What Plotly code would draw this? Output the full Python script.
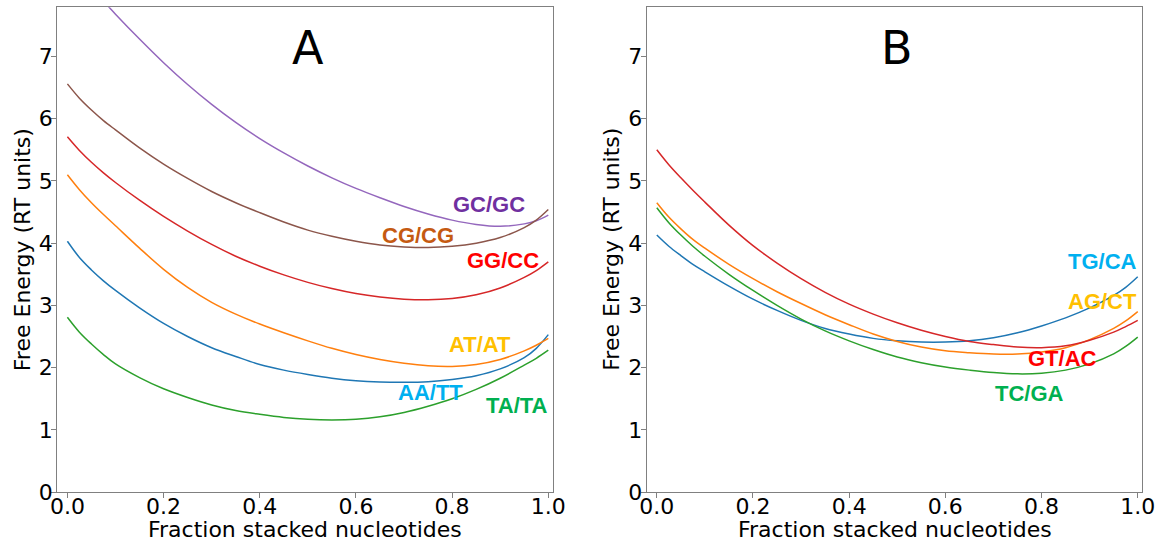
import plotly.graph_objects as go

# ---------------- data ----------------
frac = [0.0, 0.025, 0.05, 0.075, 0.1, 0.15, 0.2, 0.25, 0.3, 0.35, 0.4, 0.45, 0.5,
        0.55, 0.6, 0.65, 0.7, 0.75, 0.8, 0.85, 0.9, 0.95, 0.975, 1.0]

# Panel A
aa_tt = [4.03, 3.77, 3.57, 3.395, 3.24, 2.96, 2.71, 2.50, 2.32, 2.18, 2.05, 1.96, 1.89,
         1.83, 1.79, 1.77, 1.765, 1.775, 1.81, 1.87, 1.98, 2.16, 2.31, 2.53]
at_at = [5.10, 4.86, 4.65, 4.46, 4.28, 3.92, 3.58, 3.29, 3.05, 2.86, 2.70, 2.56, 2.43,
         2.31, 2.21, 2.13, 2.07, 2.03, 2.02, 2.05, 2.13, 2.27, 2.36, 2.47]
ta_ta = [2.81, 2.57, 2.38, 2.21, 2.06, 1.84, 1.66, 1.52, 1.40, 1.31, 1.25, 1.20, 1.17,
         1.16, 1.17, 1.21, 1.28, 1.38, 1.50, 1.65, 1.83, 2.04, 2.15, 2.28]
gg_cc = [5.71, 5.49, 5.30, 5.13, 4.975, 4.69, 4.43, 4.195, 3.98, 3.79, 3.63, 3.49, 3.37,
         3.27, 3.19, 3.135, 3.10, 3.09, 3.11, 3.17, 3.28, 3.45, 3.56, 3.70]
gc_gc = [8.55, 8.32, 8.10, 7.89, 7.68, 7.28, 6.90, 6.55, 6.23, 5.94, 5.68, 5.45, 5.24,
         5.05, 4.88, 4.73, 4.59, 4.47, 4.37, 4.30, 4.27, 4.31, 4.36, 4.45]
cg_cg = [6.56, 6.33, 6.14, 5.97, 5.82, 5.53, 5.27, 5.04, 4.83, 4.65, 4.49, 4.34, 4.21,
         4.11, 4.03, 3.97, 3.94, 3.93, 3.95, 4.00, 4.09, 4.25, 4.37, 4.54]

# Panel B
tg_ca = [4.13, 3.95, 3.80, 3.66, 3.54, 3.31, 3.10, 2.92, 2.76, 2.63, 2.54, 2.47, 2.43,
         2.41, 2.41, 2.43, 2.48, 2.56, 2.67, 2.80, 2.96, 3.16, 3.29, 3.46]
ag_ct = [4.65, 4.42, 4.23, 4.06, 3.92, 3.66, 3.43, 3.22, 3.03, 2.85, 2.69, 2.54, 2.42,
         2.33, 2.27, 2.24, 2.22, 2.22, 2.25, 2.32, 2.45, 2.63, 2.75, 2.90]
tc_ga = [4.57, 4.33, 4.13, 3.95, 3.79, 3.50, 3.24, 3.00, 2.78, 2.59, 2.43, 2.29, 2.17,
         2.08, 2.01, 1.96, 1.92, 1.90, 1.91, 1.96, 2.06, 2.22, 2.34, 2.49]
gt_ac = [5.50, 5.26, 5.05, 4.85, 4.66, 4.29, 3.96, 3.68, 3.43, 3.21, 3.02, 2.86, 2.72,
         2.60, 2.50, 2.42, 2.37, 2.33, 2.32, 2.35, 2.44, 2.57, 2.66, 2.76]

panel_a_series = [("AA/TT", aa_tt), ("AT/AT", at_at), ("TA/TA", ta_ta),
                  ("GG/CC", gg_cc), ("GC/GC", gc_gc), ("CG/CG", cg_cg)]
panel_b_series = [("TG/CA", tg_ca), ("AG/CT", ag_ct), ("TC/GA", tc_ga),
                  ("GT/AC", gt_ac)]

line_colors = ["#1f77b4", "#ff7f0e", "#2ca02c", "#d62728", "#9467bd", "#8c564b"]

# label text, position (x, y) and colour
labels_a = [("GC/GC", 0.876, 4.62, "#7030A0"), ("CG/CG", 0.730, 4.13, "#C55A11"),
            ("GG/CC", 0.906, 3.72, "#FF0000"), ("AT/AT", 0.858, 2.37, "#FFC000"),
            ("AA/TT", 0.754, 1.60, "#00B0F0"), ("TA/TA", 0.934, 1.39, "#00B050")]
labels_b = [("TG/CA", 0.927, 3.70, "#00B0F0"), ("AG/CT", 0.927, 3.06, "#FFC000"),
            ("GT/AC", 0.844, 2.15, "#FF0000"), ("TC/GA", 0.775, 1.59, "#00B050")]

x_ticks = [0.0, 0.2, 0.4, 0.6, 0.8, 1.0]
y_ticks = [0, 1, 2, 3, 4, 5, 6, 7]
x_title = "Fraction stacked nucleotides"
y_title = "Free Energy (RT units)"

# ---------------- figure ----------------
W, H = 1159, 544
fig = go.Figure()

for i, (name, ys) in enumerate(panel_a_series):
    fig.add_trace(go.Scatter(x=frac, y=ys, mode="lines", name=name,
                             line=dict(color=line_colors[i], width=1.5, shape="spline"),
                             xaxis="x", yaxis="y", showlegend=False))
for i, (name, ys) in enumerate(panel_b_series):
    fig.add_trace(go.Scatter(x=frac, y=ys, mode="lines", name=name,
                             line=dict(color=line_colors[i], width=1.5, shape="spline"),
                             xaxis="x2", yaxis="y2", showlegend=False))

ydom = [(H - 492.1) / H, (H - 7.3) / H]
xdomA = [57.3 / W, 553.3 / W]
xdomB = [646.7 / W, 1142.3 / W]

axis_common = dict(showline=True, linecolor="#808080", linewidth=1.3, mirror=True,
                   ticks="outside", ticklen=5, tickcolor="#808080", tickwidth=1.3,
                   showgrid=False, zeroline=False,
                   tickfont=dict(family="DejaVu Sans", size=22, color="black"),
                   automargin=False)
xaxis_common = dict(axis_common, ticklabelstandoff=-11, tickvals=x_ticks, tickformat=".1f")
yaxis_common = dict(axis_common, ticklabelstandoff=-6, tickvals=y_ticks, range=[0, 7.79])

fig.update_layout(
    width=W, height=H,
    margin=dict(l=0, r=0, t=0, b=0),
    paper_bgcolor="white", plot_bgcolor="white",
    xaxis=dict(domain=xdomA, range=[-0.021, 1.0104], anchor="y", **xaxis_common),
    yaxis=dict(domain=ydom, anchor="x", **yaxis_common),
    xaxis2=dict(domain=xdomB, range=[-0.021, 1.0095], anchor="y2", **xaxis_common),
    yaxis2=dict(domain=ydom, anchor="x2", **yaxis_common),
)

ann = []
for (t, x, y, c) in labels_a:
    ann.append(dict(text=f"<b>{t}</b>", x=x, y=y, xref="x", yref="y", showarrow=False,
                    font=dict(family="Liberation Sans", size=22, color=c)))
for (t, x, y, c) in labels_b:
    ann.append(dict(text=f"<b>{t}</b>", x=x, y=y, xref="x2", yref="y2", showarrow=False,
                    font=dict(family="Liberation Sans", size=22, color=c)))

# panel letters
ann.append(dict(text="A", x=0.5, y=7.13, xref="x", yref="y", showarrow=False,
                font=dict(family="DejaVu Sans", size=46, color="black")))
ann.append(dict(text="B", x=0.5, y=7.13, xref="x2", yref="y2", showarrow=False,
                font=dict(family="DejaVu Sans", size=46, color="black")))

# axis titles
for xc in [(xdomA[0] + xdomA[1]) / 2, (xdomB[0] + xdomB[1]) / 2]:
    ann.append(dict(text=x_title, x=xc, y=(H - 529) / H, xref="paper", yref="paper",
                    showarrow=False, xanchor="center", yanchor="middle",
                    font=dict(family="DejaVu Sans", size=22, color="black")))
for xp in [22.5, 612]:
    ann.append(dict(text=y_title, x=xp / W, y=(ydom[0] + ydom[1]) / 2,
                    xref="paper", yref="paper", showarrow=False, textangle=-90,
                    xanchor="center", yanchor="middle",
                    font=dict(family="DejaVu Sans", size=22, color="black")))

fig.update_layout(annotations=ann)
fig.write_html("out.html", config={"displayModeBar": False},
               post_script="document.body.style.margin='0px';")
